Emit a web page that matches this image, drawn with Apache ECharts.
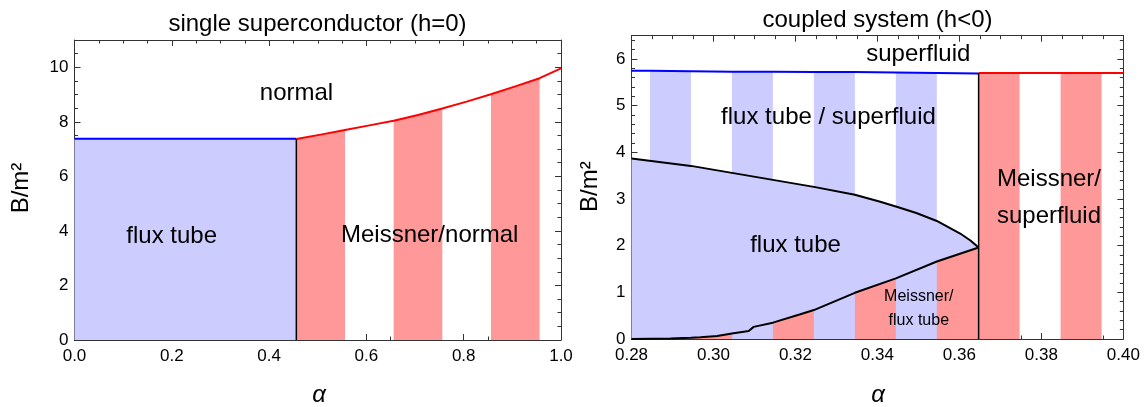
<!DOCTYPE html>
<html>
<head>
<meta charset="utf-8">
<title>phase diagrams</title>
<script src="https://cdn.jsdelivr.net/npm/echarts@6/dist/echarts.min.js"></script>
<style>
  html, body { margin: 0; padding: 0; background: #fff; }
  #chart { width: 1146px; height: 407px; }
</style>
</head>
<body>
<div id="chart"></div>
<script>
// ---- left panel: single superconductor (h=0) ----
var leftFluxLine = [[0, 7.38], [0.456, 7.38]];
var leftNormalCurve = [[0.456, 7.37], [0.506, 7.53], [0.556, 7.70], [0.606, 7.87], [0.656, 8.04],
  [0.706, 8.25], [0.756, 8.49], [0.806, 8.74], [0.856, 9.01], [0.906, 9.30], [0.956, 9.60], [1.0, 9.96]];
var leftBorder = [[0.456, 0], [0.456, 7.37]];
var leftRedStripes = [[0.456, 0.556], [0.656, 0.756], [0.856, 0.956]];

// ---- right panel: coupled system (h<0) ----
var rightBlueLine = [[0.28, 5.75], [0.2845, 5.75], [0.2945, 5.74], [0.3045, 5.73], [0.3145, 5.73],
  [0.3245, 5.72], [0.3345, 5.72], [0.3445, 5.71], [0.3545, 5.70], [0.3647, 5.69]];
var rightRedLine = [[0.3647, 5.70], [0.3747, 5.70], [0.3847, 5.70], [0.3947, 5.70], [0.40, 5.70]];
var upperCurve = [[0.28, 3.87], [0.2945, 3.71], [0.3045, 3.56], [0.3145, 3.41], [0.3245, 3.26],
  [0.3345, 3.09], [0.3407, 2.94], [0.3445, 2.84], [0.3495, 2.70], [0.3545, 2.53], [0.3602, 2.26],
  [0.3627, 2.11], [0.3647, 1.96]];
var lowerCurve = [[0.28, 0], [0.2895, 0.01], [0.2945, 0.025], [0.2968, 0.035], [0.3009, 0.065],
  [0.3045, 0.12], [0.3086, 0.17], [0.3098, 0.26], [0.3145, 0.35], [0.3212, 0.53], [0.3245, 0.62],
  [0.3345, 0.99], [0.3445, 1.30], [0.3545, 1.66], [0.3647, 1.96]];
var rightBorder = [[0.3647, 0], [0.3647, 5.70]];
var rightBlueStripes = [[0.2845, 0.2945], [0.3045, 0.3145], [0.3245, 0.3345], [0.3445, 0.3545]];
var rightRedLowStripes = [[0.2945, 0.3045], [0.3145, 0.3245], [0.3345, 0.3445], [0.3545, 0.3647]];
var rightRedHighStripes = [[0.3647, 0.3747], [0.3847, 0.3947]];

var FONT = '"Liberation Sans", Arial, Helvetica, sans-serif';
var BLUE_FILL = '#ccccff', RED_FILL = '#ff9999', FRAME = '#333';

var chart = echarts.init(document.getElementById('chart'));

// one side of the frame; major axes carry labels, minor ones only short ticks
function frameAxis(kind, grid, pos, min, max, interval, major, digits) {
  var a = {
    type: 'value', gridIndex: grid, position: pos, min: min, max: max, interval: interval,
    splitLine: { show: false },
    axisLine: { show: major, onZero: false, lineStyle: { color: FRAME, width: 1 } },
    axisTick: { show: true, inside: true, length: major ? 6 : 3.5, lineStyle: { color: FRAME, width: 1 } },
    axisLabel: { show: false }
  };
  if (major && (pos === 'bottom' || pos === 'left')) {
    a.axisLabel = {
      show: true, color: '#000', fontSize: 17, fontFamily: FONT,
      margin: kind === 'x' ? 8 : 6, showMaxLabel: kind === 'x',
      formatter: function (v) { return v.toFixed(digits); }
    };
  }
  return a;
}

// order matters: echarts puts a second axis on an already used side onto the opposite one
var xAxes = [
  frameAxis('x', 0, 'bottom', 0, 1, 0.2, true, 1),
  frameAxis('x', 0, 'top', 0, 1, 0.2, true, 1),
  frameAxis('x', 0, 'bottom', 0, 1, 0.05, false, 1),
  frameAxis('x', 0, 'top', 0, 1, 0.05, false, 1),
  frameAxis('x', 1, 'bottom', 0.28, 0.40, 0.02, true, 2),
  frameAxis('x', 1, 'top', 0.28, 0.40, 0.02, true, 2),
  frameAxis('x', 1, 'bottom', 0.28, 0.40, 0.005, false, 2),
  frameAxis('x', 1, 'top', 0.28, 0.40, 0.005, false, 2)
];
var yAxes = [
  frameAxis('y', 0, 'left', 0, 11, 2, true, 0),
  frameAxis('y', 0, 'right', 0, 11, 2, true, 0),
  frameAxis('y', 0, 'left', 0, 11, 0.5, false, 0),
  frameAxis('y', 0, 'right', 0, 11, 0.5, false, 0),
  frameAxis('y', 1, 'left', 0, 6.5, 1, true, 0),
  frameAxis('y', 1, 'right', 0, 6.5, 1, true, 0),
  frameAxis('y', 1, 'left', 0, 6.5, 0.2, false, 0),
  frameAxis('y', 1, 'right', 0, 6.5, 0.2, false, 0)
];

function inRange(data, r) {
  return data.filter(function (p) { return p[0] >= r[0] - 1e-9 && p[0] <= r[1] + 1e-9; });
}
function fill(panel, data, color, z) {
  return {
    type: 'line', xAxisIndex: panel * 4, yAxisIndex: panel * 4, data: data,
    showSymbol: false, silent: true, z: z, animation: false,
    lineStyle: { width: 0 }, areaStyle: { color: color, opacity: 1, origin: 'start' }
  };
}
function curve(panel, data, color, width) {
  return {
    type: 'line', xAxisIndex: panel * 4, yAxisIndex: panel * 4, data: data,
    showSymbol: false, silent: true, z: 5, animation: false,
    lineStyle: { color: color, width: width }
  };
}

var series = [];
// left
series.push(fill(0, leftFluxLine, BLUE_FILL, 1));
leftRedStripes.forEach(function (r) { series.push(fill(0, inRange(leftNormalCurve, r), RED_FILL, 1)); });
series.push(curve(0, leftFluxLine, '#0000ff', 2));
series.push(curve(0, leftNormalCurve, '#ff0000', 2));
series.push(curve(0, leftBorder, '#000', 1.5));
// right
rightBlueStripes.forEach(function (r) { series.push(fill(1, inRange(rightBlueLine, r), BLUE_FILL, 1)); });
series.push(fill(1, upperCurve, BLUE_FILL, 1));
rightRedLowStripes.forEach(function (r) { series.push(fill(1, inRange(lowerCurve, r), RED_FILL, 2)); });
rightRedHighStripes.forEach(function (r) { series.push(fill(1, inRange(rightRedLine, r), RED_FILL, 2)); });
series.push(curve(1, rightBlueLine, '#0000ff', 2));
series.push(curve(1, rightRedLine, '#ff0000', 2));
series.push(curve(1, upperCurve, '#000', 2));
series.push(curve(1, lowerCurve, '#000', 2));
series.push(curve(1, rightBorder, '#000', 1.5));

function txt(s, x, y, size, extra) {
  var g = {
    type: 'text', x: x, y: y, z: 10, silent: true,
    style: { text: s, fontSize: size, fontFamily: FONT, fill: '#000', align: 'center', verticalAlign: 'middle' }
  };
  if (extra) {
    if (extra.rotation) g.rotation = extra.rotation;
    if (extra.fontStyle) g.style.fontStyle = extra.fontStyle;
    if (extra.lineHeight) g.style.lineHeight = extra.lineHeight;
  }
  return g;
}

var option = {
  animation: false,
  grid: [
    { left: 74.5, top: 40, width: 486.5, height: 300 },
    { left: 631.5, top: 35.7, width: 491.8, height: 303.3 }
  ],
  xAxis: xAxes,
  yAxis: yAxes,
  series: series,
  graphic: [
    txt('single superconductor (h=0)', 317.5, 24, 24),
    txt('coupled system (h<0)', 877.5, 20, 24),
    txt('normal', 296.5, 93, 24),
    txt('flux tube', 171.7, 236, 24),
    txt('Meissner/normal', 429.7, 235, 24),
    txt('superfluid', 918.3, 54, 24),
    txt('flux tube / superfluid', 828.5, 117, 24),
    txt('flux tube', 795.5, 245, 24),
    txt('Meissner/\nsuperfluid', 1049, 198, 24, { lineHeight: 37 }),
    txt('Meissner/\nflux tube', 918.8, 309, 16, { lineHeight: 24 }),
    txt('B/m\u00b2', 21.7, 188, 24, { rotation: Math.PI / 2 }),
    txt('B/m\u00b2', 590, 186.7, 24, { rotation: Math.PI / 2 }),
    txt('\u03b1', 319, 395, 24, { fontStyle: 'italic' }),
    txt('\u03b1', 878, 395, 24, { fontStyle: 'italic' })
  ]
};
chart.setOption(option);
</script>
</body>
</html>
